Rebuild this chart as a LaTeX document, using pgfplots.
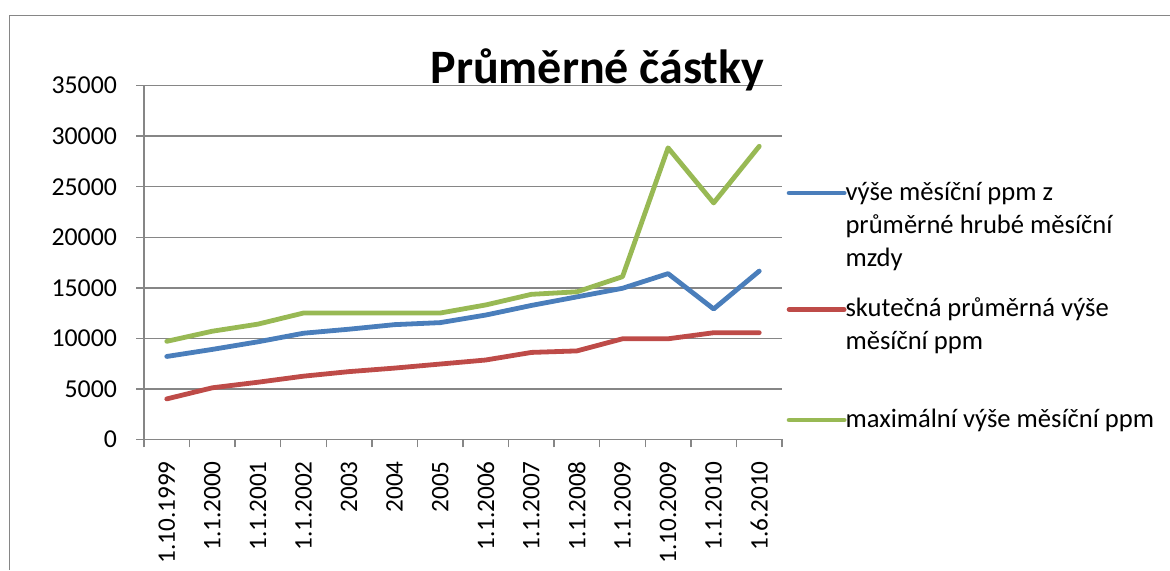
\documentclass[border=0pt]{standalone}
\usepackage{pgfplots}
\pgfplotsset{compat=1.18}
\usepackage{fontspec}
\setmainfont{Carlito}
\definecolor{axgray}{HTML}{868686}
\definecolor{sblue}{HTML}{4A7EBB}
\definecolor{sred}{HTML}{BE4B48}
\definecolor{sgreen}{HTML}{98B954}
\newcommand{\lentry}[2][12pt]{\raisebox{0pt}[#1][0pt]{\parbox[t]{170pt}{\rule{0pt}{12pt}#2}}}
\begin{document}
\begin{tikzpicture}
\useasboundingbox (0,0) rectangle (585pt,285pt);
\draw[axgray, line width=0.75pt] (4.75pt,0) -- (4.75pt,277.25pt) -- (585pt,277.25pt);
\begin{axis}[
  at={(72pt,65.35pt)}, anchor=south west,
  width=319pt, height=176.8pt, scale only axis,
  xmin=-0.5, xmax=13.5, ymin=0, ymax=35000,
  axis x line*=bottom, axis y line*=left,
  axis line style={axgray, line width=0.75pt},
  ytick={0,5000,...,35000},
  scaled y ticks=false,
  ymajorgrids, grid style={axgray, line width=0.75pt},
  xtick={0,...,13},
  xticklabels={1.10.1999,1.1.2000,1.1.2001,1.1.2002,2003,2004,2005,1.1.2006,1.1.2007,1.1.2008,1.1.2009,1.10.2009,1.1.2010,1.6.2010},
  minor xtick={-0.5,0.5,...,13.5},
  tick align=outside,
  major tick length=4pt, minor tick length=4pt,
  major x tick style={draw=none},
  every tick/.style={axgray, line width=0.75pt},
  minor x tick style={axgray, line width=0.75pt},
  major y tick style={axgray, line width=0.75pt},
  /pgf/number format/.cd, 1000 sep={}, assume math mode=true, /pgfplots/.cd,
  yticklabel style={font=\fontsize{12.9}{16}\selectfont, anchor=east, xshift=-6pt},
  xticklabel style={font=\fontsize{12.6}{16}\selectfont, yshift=-3.5pt, rotate=90, anchor=east},
  clip=false,
  legend style={at={(1.0074,0.7446)}, anchor=north west, draw=none, fill=none,
    inner sep=0pt, outer sep=0pt, row sep=44.75pt, column sep=-0.5pt,
    font=\fontsize{13.3}{16.7}\selectfont,
    nodes={inner sep=0pt, anchor=base west}},
  legend image code/.code={\draw[#1] (0pt,3.5pt) -- (27.5pt,3.5pt);},
  every axis plot/.append style={line width=2.4pt, line join=round, line cap=round},
]
\addplot[sblue] coordinates {(0,8200) (1,8900) (2,9650) (3,10500) (4,10900) (5,11350) (6,11550) (7,12300) (8,13250) (9,14100) (10,14950) (11,16400) (12,12900) (13,16650)};
\addlegendentry{\lentry{výše měsíční ppm z\\průměrné hrubé měsíční\\mzdy}}
\addplot[sred] coordinates {(0,4000) (1,5100) (2,5650) (3,6250) (4,6700) (5,7050) (6,7450) (7,7850) (8,8600) (9,8750) (10,9950) (11,9950) (12,10550) (13,10550)};
\addlegendentry{\lentry{skutečná průměrná výše\\měsíční ppm}}
\addplot[sgreen] coordinates {(0,9700) (1,10700) (2,11400) (3,12500) (4,12500) (5,12500) (6,12500) (7,13300) (8,14350) (9,14600) (10,16100) (11,28850) (12,23400) (13,29000)};
\addlegendentry{\lentry[9pt]{maximální výše měsíční ppm}}
\end{axis}
\node[font=\fontsize{24}{28}\selectfont\bfseries, anchor=base] at (298.75pt,243.5pt) {Průměrné částky};
\end{tikzpicture}
\end{document}
